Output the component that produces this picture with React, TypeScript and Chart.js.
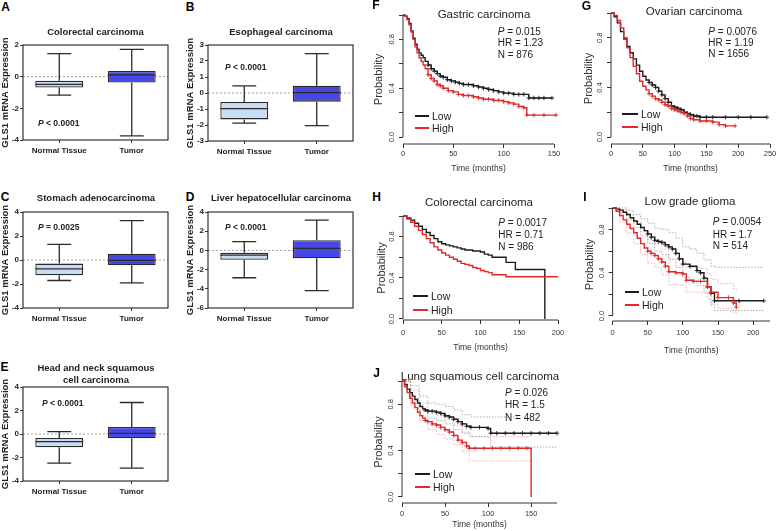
import React, { useEffect, useRef } from 'react';
import { Chart, registerables } from 'chart.js';
Chart.register(...registerables);

const FONT = '"Liberation Sans", Arial, Helvetica, sans-serif';
const RED = '#e02a2a';
const BLACK = '#1c1c1c';
const NORMAL_FILL = '#c8dcf4';
const TUMOR_FILL = '#4747e6';

// ---------- Box plot data: [min, q1, median, q3, max] ----------
const boxCategories = ['Normal Tissue', 'Tumor'];
const colorectalNormal = [-1.17, -0.68, -0.49, -0.26, 1.45];
const colorectalTumor = [-3.74, -0.37, 0.11, 0.36, 1.73];
const esophagealNormal = [-1.88, -1.65, -0.98, -0.56, 0.44];
const esophagealTumor = [-2.04, -0.54, 0.02, 0.46, 2.46];
const stomachNormal = [-1.71, -1.27, -0.74, -0.3, 1.3];
const stomachTumor = [-1.9, -0.44, -0.03, 0.52, 3.28];
const liverNormal = [-2.85, -0.97, -0.49, -0.25, 0.92];
const liverTumor = [-4.18, -0.83, 0.22, 1.06, 3.16];
const headNeckNormal = [-2.48, -1.13, -0.65, -0.34, 0.2];
const headNeckTumor = [-2.9, -0.37, 0.06, 0.59, 2.68];

const ticksA = [-4, -2, 0, 2];
const ticksB = [-3, -2, -1, 0, 1, 2, 3];
const ticksC = [-4, -2, 0, 2, 4];
const ticksD = [-6, -4, -2, 0, 2, 4];
const ticksE = [-4, -2, 0, 2, 4];

// ---------- Kaplan-Meier data ----------
const kmYTicks = [0, 0.2, 0.4, 0.6, 0.8, 1.0];
const kmYLabels = [0, 0.4, 0.8];

const gastricLowTime = [0, 2, 4, 6, 8, 10, 12, 14, 16, 18, 20, 22, 25, 28, 31, 34, 37, 40, 44, 48, 52, 56, 60, 65, 70, 75, 80, 85, 90, 95, 100, 105, 110, 115, 120, 125, 130, 135, 140, 148];
const gastricLowSurv = [1, 0.99, 0.97, 0.93, 0.87, 0.81, 0.76, 0.72, 0.69, 0.67, 0.65, 0.62, 0.59, 0.56, 0.54, 0.52, 0.5, 0.49, 0.47, 0.46, 0.45, 0.44, 0.43, 0.43, 0.42, 0.41, 0.4, 0.39, 0.38, 0.37, 0.36, 0.36, 0.35, 0.35, 0.35, 0.32, 0.32, 0.32, 0.32, 0.32];
const gastricHighTime = [0, 2, 4, 6, 8, 10, 12, 14, 16, 18, 20, 22, 25, 28, 31, 34, 37, 40, 45, 50, 55, 60, 65, 70, 75, 80, 85, 90, 95, 100, 105, 110, 115, 120, 123, 130, 140, 152];
const gastricHighSurv = [1, 0.99, 0.96, 0.92, 0.86, 0.8, 0.74, 0.69, 0.65, 0.62, 0.59, 0.56, 0.51, 0.48, 0.46, 0.43, 0.42, 0.4, 0.38, 0.37, 0.35, 0.34, 0.34, 0.33, 0.32, 0.31, 0.31, 0.3, 0.3, 0.29, 0.28, 0.27, 0.25, 0.24, 0.18, 0.18, 0.18, 0.18];
const gastricXTicks = [0, 50, 100, 150];

const ovarianLowTime = [0, 5, 10, 15, 20, 25, 30, 35, 40, 45, 50, 55, 60, 65, 70, 75, 80, 85, 90, 95, 100, 105, 110, 115, 120, 125, 130, 135, 140, 150, 160, 180, 200, 220, 245];
const ovarianLowSurv = [1, 0.97, 0.92, 0.85, 0.79, 0.73, 0.68, 0.63, 0.58, 0.53, 0.49, 0.46, 0.44, 0.42, 0.4, 0.37, 0.34, 0.31, 0.28, 0.25, 0.24, 0.23, 0.22, 0.2, 0.19, 0.18, 0.17, 0.17, 0.16, 0.16, 0.16, 0.16, 0.16, 0.16, 0.16];
const ovarianHighTime = [0, 5, 10, 15, 20, 25, 30, 35, 40, 45, 50, 55, 60, 65, 70, 75, 80, 85, 90, 95, 100, 105, 110, 115, 120, 125, 130, 140, 150, 160, 170, 180, 195];
const ovarianHighSurv = [1, 0.98, 0.94, 0.88, 0.8, 0.72, 0.64, 0.57, 0.51, 0.45, 0.41, 0.38, 0.35, 0.33, 0.31, 0.3, 0.28, 0.26, 0.25, 0.23, 0.22, 0.21, 0.2, 0.19, 0.17, 0.15, 0.14, 0.13, 0.13, 0.12, 0.1, 0.09, 0.09];
const ovarianXTicks = [0, 50, 100, 150, 200, 250];

const colorectalLowTime = [0, 5, 10, 15, 20, 25, 30, 35, 40, 45, 50, 55, 60, 65, 70, 75, 80, 90, 100, 105, 110, 115, 125, 133, 140, 145, 183];
const colorectalLowSurv = [1, 0.98, 0.96, 0.93, 0.9, 0.87, 0.84, 0.81, 0.78, 0.75, 0.73, 0.72, 0.71, 0.7, 0.69, 0.68, 0.67, 0.66, 0.65, 0.63, 0.62, 0.6, 0.6, 0.55, 0.55, 0.48, 0];
const colorectalHighTime = [0, 5, 10, 15, 20, 25, 30, 35, 40, 45, 50, 55, 60, 65, 70, 75, 80, 85, 90, 95, 100, 105, 110, 115, 133, 200];
const colorectalHighSurv = [1, 0.97, 0.94, 0.9, 0.86, 0.82, 0.78, 0.74, 0.7, 0.67, 0.64, 0.62, 0.6, 0.58, 0.56, 0.54, 0.53, 0.52, 0.5, 0.49, 0.47, 0.46, 0.45, 0.43, 0.41, 0.41];
const colorectalXTicks = [0, 50, 100, 150, 200];

const gliomaLowTime = [0, 5, 10, 15, 20, 25, 30, 35, 40, 45, 50, 55, 60, 65, 70, 75, 80, 85, 90, 95, 100, 110, 120, 125, 130, 135, 140, 145, 180, 215];
const gliomaLowSurv = [1, 0.99, 0.98, 0.96, 0.94, 0.91, 0.88, 0.85, 0.82, 0.79, 0.76, 0.73, 0.7, 0.69, 0.68, 0.66, 0.64, 0.62, 0.58, 0.53, 0.48, 0.46, 0.42, 0.4, 0.35, 0.27, 0.21, 0.14, 0.14, 0.14];
const gliomaHighTime = [0, 5, 10, 15, 20, 25, 30, 35, 40, 45, 50, 55, 60, 65, 70, 75, 80, 90, 100, 105, 115, 125, 135, 140, 150, 165, 172, 176];
const gliomaHighSurv = [1, 0.97, 0.93, 0.89, 0.85, 0.81, 0.77, 0.72, 0.67, 0.63, 0.6, 0.58, 0.56, 0.53, 0.5, 0.46, 0.41, 0.4, 0.39, 0.33, 0.32, 0.32, 0.27, 0.22, 0.17, 0.17, 0.12, 0.08];
const gliomaLowCiTime = [0, 10, 20, 30, 40, 50, 60, 70, 80, 90, 100, 110, 120, 130, 140, 145, 215];
const gliomaLowUpper = [1, 1, 0.98, 0.94, 0.9, 0.86, 0.81, 0.8, 0.77, 0.72, 0.64, 0.62, 0.58, 0.52, 0.46, 0.45, 0.45];
const gliomaLowLower = [1, 0.96, 0.89, 0.82, 0.74, 0.67, 0.6, 0.57, 0.52, 0.45, 0.36, 0.33, 0.28, 0.22, 0.1, 0.05, 0.04];
const gliomaHighCiTime = [0, 10, 20, 30, 40, 50, 60, 70, 80, 100, 105, 125, 135, 140, 150, 172, 176];
const gliomaHighUpper = [1, 0.98, 0.93, 0.87, 0.78, 0.71, 0.67, 0.62, 0.53, 0.5, 0.45, 0.44, 0.39, 0.34, 0.3, 0.25, 0.22];
const gliomaHighLower = [1, 0.87, 0.77, 0.67, 0.57, 0.49, 0.45, 0.38, 0.29, 0.28, 0.22, 0.21, 0.16, 0.11, 0.07, 0.03, 0.02];
const gliomaXTicks = [0, 50, 100, 150, 200];

const lungLowTime = [0, 3, 6, 9, 12, 15, 18, 21, 24, 27, 30, 35, 40, 45, 50, 55, 60, 65, 70, 75, 80, 90, 100, 103, 110, 120, 130, 140, 150, 160, 170, 180];
const lungLowSurv = [1, 0.97, 0.93, 0.9, 0.87, 0.84, 0.81, 0.78, 0.76, 0.75, 0.74, 0.74, 0.73, 0.72, 0.7, 0.69, 0.67, 0.65, 0.63, 0.61, 0.6, 0.6, 0.59, 0.55, 0.55, 0.55, 0.55, 0.55, 0.55, 0.55, 0.55, 0.55];
const lungHighTime = [0, 3, 6, 9, 12, 15, 18, 21, 24, 27, 30, 35, 40, 45, 50, 55, 60, 65, 70, 75, 78, 85, 95, 105, 115, 125, 135, 145, 150];
const lungHighSurv = [1, 0.95, 0.9, 0.85, 0.81, 0.77, 0.73, 0.7, 0.68, 0.66, 0.65, 0.63, 0.62, 0.6, 0.58, 0.56, 0.53, 0.49, 0.47, 0.44, 0.42, 0.42, 0.42, 0.42, 0.42, 0.42, 0.42, 0.42, 0];
const lungLowUpperTime = [0, 10, 20, 30, 40, 50, 60, 70, 80, 100, 103, 135];
const lungLowUpper = [1, 0.96, 0.87, 0.81, 0.8, 0.78, 0.75, 0.71, 0.69, 0.69, 0.69, 0.69];
const lungLowLowerTime = [0, 10, 20, 30, 40, 50, 60, 70, 80, 100, 103, 180];
const lungLowLower = [1, 0.85, 0.74, 0.68, 0.66, 0.63, 0.58, 0.55, 0.52, 0.51, 0.43, 0.43];
const lungHighCiTime = [0, 10, 20, 30, 40, 50, 60, 70, 78, 150];
const lungHighUpper = [1, 0.92, 0.81, 0.74, 0.71, 0.67, 0.62, 0.56, 0.52, 0.52];
const lungHighLower = [1, 0.79, 0.66, 0.58, 0.54, 0.5, 0.45, 0.39, 0.31, 0.31];
const lungXTicks = [0, 50, 100, 150];

// ---------- helpers ----------
type Area = { L: number; T: number; R: number; B: number };
type Pad = { l: number; t: number; r: number; b: number };

function geom(area: Area, yW: number, xH: number, pad: Pad) {
  const x = area.L - yW - pad.l;
  const y = area.T - pad.t;
  return { x, y, w: Math.round(area.R + pad.r - x), h: Math.round(area.B + xH + pad.b - y) };
}

function ChartCanvas({ rect, make }: { rect: { x: number; y: number; w: number; h: number }; make: () => any }) {
  const ref = useRef<HTMLCanvasElement | null>(null);
  useEffect(() => {
    if (!ref.current) return;
    const c = new Chart(ref.current, make());
    return () => c.destroy();
  }, []);
  return (
    <canvas
      ref={ref}
      width={rect.w}
      height={rect.h}
      style={{ position: 'absolute', left: rect.x, top: rect.y, width: rect.w, height: rect.h }}
    />
  );
}

const BOX_PAD: Pad = { l: 0, t: 8, r: 8, b: 2 };
const BOX_YW = 23;
const BOX_XH = 18;

function boxConfig(normal: number[], tumor: number[], yMin: number, yMax: number, yTicks: number[]) {
  const stats = [normal, tumor];
  const extras = {
    id: 'boxExtras',
    beforeDatasetsDraw(chart: any) {
      const { ctx, chartArea: ca, scales } = chart;
      const y0 = scales.y.getPixelForValue(0);
      ctx.save();
      ctx.strokeStyle = '#8c8c8c';
      ctx.lineWidth = 0.8;
      ctx.setLineDash([2, 2]);
      ctx.beginPath();
      ctx.moveTo(ca.left, y0);
      ctx.lineTo(ca.right, y0);
      ctx.stroke();
      ctx.restore();
    },
    afterDatasetsDraw(chart: any) {
      const { ctx, scales } = chart;
      const y = scales.y;
      const meta = chart.getDatasetMeta(0);
      ctx.save();
      ctx.strokeStyle = '#2b2b2b';
      ctx.lineWidth = 1.3;
      meta.data.forEach((el: any, i: number) => {
        const s = stats[i];
        const { x, width } = el.getProps(['x', 'width'], true);
        const half = width / 2;
        const cap = width / 4;
        const py = (v: number) => y.getPixelForValue(v);
        ctx.beginPath();
        ctx.moveTo(x, py(s[4]));
        ctx.lineTo(x, py(s[3]));
        ctx.moveTo(x, py(s[1]));
        ctx.lineTo(x, py(s[0]));
        ctx.moveTo(x - cap, py(s[4]));
        ctx.lineTo(x + cap, py(s[4]));
        ctx.moveTo(x - cap, py(s[0]));
        ctx.lineTo(x + cap, py(s[0]));
        ctx.moveTo(x - half, py(s[2]));
        ctx.lineTo(x + half, py(s[2]));
        ctx.stroke();
      });
      ctx.restore();
    },
    afterDraw(chart: any) {
      const { ctx, chartArea: ca } = chart;
      ctx.save();
      ctx.strokeStyle = '#333';
      ctx.lineWidth = 1.2;
      ctx.strokeRect(ca.left, ca.top, ca.right - ca.left, ca.bottom - ca.top);
      ctx.restore();
    },
  };
  return {
    type: 'bar',
    data: {
      labels: boxCategories,
      datasets: [
        {
          data: stats.map((s) => [s[1], s[3]]),
          backgroundColor: [NORMAL_FILL, TUMOR_FILL],
          borderColor: '#2b2b2b',
          borderWidth: 1.3,
          borderSkipped: false,
          barPercentage: 0.66,
          categoryPercentage: 1,
        },
      ],
    },
    options: {
      responsive: false,
      animation: false,
      events: [],
      layout: { padding: { left: BOX_PAD.l, top: BOX_PAD.t, right: BOX_PAD.r, bottom: BOX_PAD.b } },
      plugins: { legend: { display: false }, tooltip: { enabled: false }, title: { display: false } },
      scales: {
        x: {
          type: 'category',
          offset: true,
          grid: { display: true, drawOnChartArea: false, offset: false, tickLength: 3, color: '#333' },
          border: { display: false },
          ticks: { font: { family: FONT, size: 8, weight: 'bold' }, color: '#222', padding: 3, maxRotation: 0 },
          afterFit: (s: any) => {
            s.height = BOX_XH;
            s.paddingLeft = 0;
            s.paddingRight = 0;
          },
        },
        y: {
          min: yMin,
          max: yMax,
          afterBuildTicks: (s: any) => {
            s.ticks = yTicks.map((v) => ({ value: v }));
          },
          grid: { drawOnChartArea: false, tickLength: 3, color: '#333' },
          border: { display: false },
          ticks: { font: { family: FONT, size: 8, weight: 'bold' }, color: '#222', padding: 1 },
          title: {
            display: true,
            text: 'GLS1 mRNA Expression',
            font: { family: FONT, size: 9.5, weight: 'bold' },
            color: '#222',
            padding: 0,
          },
          afterFit: (s: any) => {
            s.width = BOX_YW;
            s.paddingTop = 0;
            s.paddingBottom = 0;
          },
        },
      },
    },
    plugins: [extras],
  };
}

const KM_PAD: Pad = { l: 0, t: 8, r: 10, b: 2 };

type Ci = { t: number[]; v: number[]; color: string };
type KmSpec = {
  area: Area;
  yMin: number;
  xMax: number;
  xTicks: number[];
  yW: number;
  xH: number;
  tickPad: number;
  r: number;
  censorFrom: number;
  lowT: number[];
  lowS: number[];
  highT: number[];
  highS: number[];
  ci?: Ci[];
};

function kmConfig(p: KmSpec) {
  const mk = (t: number[], v: number[]) => t.map((x, i) => ({ x, y: v[i] }));
  const main = (color: string) => ({
    borderColor: color,
    backgroundColor: color,
    borderWidth: 1.4,
    stepped: 'before',
    fill: false,
    clip: false,
    pointStyle: 'cross',
    pointRadius: (c: any) =>
      c.dataIndex === 0 || !c.raw || c.raw.y === 0 || c.raw.x < p.censorFrom ? 0 : p.r,
    pointBorderColor: color,
    pointBorderWidth: 0.9,
  });
  const datasets: any[] = [
    { data: mk(p.highT, p.highS), ...main(RED) },
    { data: mk(p.lowT, p.lowS), ...main(BLACK) },
    ...(p.ci || []).map((c) => ({
      data: mk(c.t, c.v),
      borderColor: c.color,
      borderWidth: 0.8,
      borderDash: [1.5, 1.5],
      pointRadius: 0,
      stepped: 'before',
      fill: false,
      clip: false,
    })),
  ];
  const rAxes = {
    id: 'rAxes',
    afterDraw(chart: any) {
      const { ctx, chartArea: ca, scales } = chart;
      const x = scales.x;
      const y = scales.y;
      ctx.save();
      ctx.strokeStyle = '#333';
      ctx.lineWidth = 1;
      ctx.beginPath();
      ctx.moveTo(ca.left, y.getPixelForValue(kmYTicks[0]));
      ctx.lineTo(ca.left, y.getPixelForValue(kmYTicks[kmYTicks.length - 1]));
      ctx.moveTo(x.getPixelForValue(p.xTicks[0]), ca.bottom);
      ctx.lineTo(x.getPixelForValue(p.xMax), ca.bottom);
      ctx.stroke();
      ctx.fillStyle = '#333';
      ctx.font = `7.5px ${FONT}`;
      ctx.textAlign = 'center';
      ctx.textBaseline = 'middle';
      kmYLabels.forEach((v) => {
        ctx.save();
        ctx.translate(ca.left - 11, y.getPixelForValue(v));
        ctx.rotate(-Math.PI / 2);
        ctx.fillText(v.toFixed(1), 0, 0);
        ctx.restore();
      });
      ctx.restore();
    },
  };
  return {
    type: 'line',
    data: { datasets },
    options: {
      responsive: false,
      animation: false,
      events: [],
      layout: { padding: { left: KM_PAD.l, top: KM_PAD.t, right: KM_PAD.r, bottom: KM_PAD.b } },
      plugins: { legend: { display: false }, tooltip: { enabled: false }, title: { display: false } },
      scales: {
        x: {
          type: 'linear',
          min: 0,
          max: p.xMax,
          afterBuildTicks: (s: any) => {
            s.ticks = p.xTicks.map((v) => ({ value: v }));
          },
          grid: { drawOnChartArea: false, tickLength: 4, color: '#333' },
          border: { display: false },
          ticks: { font: { family: FONT, size: 7.5 }, color: '#333', padding: p.tickPad, maxRotation: 0, autoSkip: false },
          title: { display: true, text: 'Time (months)', font: { family: FONT, size: 8.5 }, color: '#333', padding: 0 },
          afterFit: (s: any) => {
            s.height = p.xH;
            s.paddingLeft = 0;
            s.paddingRight = 0;
          },
        },
        y: {
          type: 'linear',
          min: p.yMin,
          max: 1,
          afterBuildTicks: (s: any) => {
            s.ticks = kmYTicks.map((v) => ({ value: v }));
          },
          grid: { drawOnChartArea: false, tickLength: 4, color: '#333' },
          border: { display: false },
          ticks: { display: false },
          title: { display: true, text: 'Probability', font: { family: FONT, size: 11 }, color: '#333', padding: 0 },
          afterFit: (s: any) => {
            s.width = p.yW;
            s.paddingTop = 0;
            s.paddingBottom = 0;
          },
        },
      },
    },
    plugins: [rAxes],
  };
}

// ---------- text overlays ----------
function Txt({ x, y, size, bold, align = 'center', color = '#222', children }: any) {
  return (
    <div
      style={{
        position: 'absolute',
        left: x,
        top: y,
        transform: `translate(${align === 'center' ? '-50%' : '0'}, -50%)`,
        fontSize: size,
        fontWeight: bold ? 700 : 400,
        color,
        whiteSpace: 'nowrap',
        lineHeight: 1,
        fontFamily: FONT,
      }}
    >
      {children}
    </div>
  );
}

function Legend({ x, tx, yLow, yHigh }: { x: number; tx: number; yLow: number; yHigh: number }) {
  const w = tx - x - 3;
  return (
    <>
      <div style={{ position: 'absolute', left: x, top: yLow - 1, width: w, height: 2, background: BLACK }} />
      <div style={{ position: 'absolute', left: x, top: yHigh - 1, width: w, height: 2, background: RED }} />
      <Txt x={tx} y={yLow} size={10.5} align="left" color="#222">Low</Txt>
      <Txt x={tx} y={yHigh} size={10.5} align="left" color="#222">High</Txt>
    </>
  );
}

function Stats({ x, ys, p, hr, n }: { x: number; ys: number[]; p: string; hr: string; n: string }) {
  return (
    <>
      <Txt x={x} y={ys[0]} size={10} align="left"><i>P</i> = {p}</Txt>
      <Txt x={x} y={ys[1]} size={10} align="left">HR = {hr}</Txt>
      <Txt x={x} y={ys[2]} size={10} align="left">N = {n}</Txt>
    </>
  );
}

const boxPanels = [
  { key: 'A', area: { L: 23, T: 45, R: 168, B: 140 }, yMin: -4, yMax: 2, ticks: ticksA, normal: colorectalNormal, tumor: colorectalTumor },
  { key: 'B', area: { L: 208, T: 45, R: 353, B: 141 }, yMin: -3, yMax: 3, ticks: ticksB, normal: esophagealNormal, tumor: esophagealTumor },
  { key: 'C', area: { L: 23, T: 212, R: 168, B: 308 }, yMin: -4, yMax: 4, ticks: ticksC, normal: stomachNormal, tumor: stomachTumor },
  { key: 'D', area: { L: 208, T: 212, R: 353, B: 308 }, yMin: -6, yMax: 4, ticks: ticksD, normal: liverNormal, tumor: liverTumor },
  { key: 'E', area: { L: 23, T: 387, R: 168, B: 481 }, yMin: -4, yMax: 4, ticks: ticksE, normal: headNeckNormal, tumor: headNeckTumor },
];

const kmPanels: (KmSpec & { key: string })[] = [
  {
    key: 'F', area: { L: 403, T: 15, R: 554, B: 144 }, yMin: -0.057, xMax: 150, xTicks: gastricXTicks, yW: 31, xH: 30, tickPad: 1.5, r: 2.2, censorFrom: 25,
    lowT: gastricLowTime, lowS: gastricLowSurv, highT: gastricHighTime, highS: gastricHighSurv,
  },
  {
    key: 'G', area: { L: 611, T: 13, R: 770, B: 144 }, yMin: -0.056, xMax: 250, xTicks: ovarianXTicks, yW: 29, xH: 30, tickPad: 1.5, r: 2.2, censorFrom: 60,
    lowT: ovarianLowTime, lowS: ovarianLowSurv, highT: ovarianHighTime, highS: ovarianHighSurv,
  },
  {
    key: 'H', area: { L: 403, T: 216, R: 558, B: 320 }, yMin: -0.01, xMax: 200, xTicks: colorectalXTicks, yW: 28, xH: 33, tickPad: 4.5, r: 0, censorFrom: 0,
    lowT: colorectalLowTime, lowS: colorectalLowSurv, highT: colorectalHighTime, highS: colorectalHighSurv,
  },
  {
    key: 'I', area: { L: 613, T: 207.5, R: 770, B: 320 }, yMin: -0.047, xMax: 224, xTicks: gliomaXTicks, yW: 29.6, xH: 35, tickPad: 3.5, r: 2.2, censorFrom: 50,
    lowT: gliomaLowTime, lowS: gliomaLowSurv, highT: gliomaHighTime, highS: gliomaHighSurv,
    ci: [
      { t: gliomaLowCiTime, v: gliomaLowUpper, color: '#9a9a9a' },
      { t: gliomaLowCiTime, v: gliomaLowLower, color: '#9a9a9a' },
      { t: gliomaHighCiTime, v: gliomaHighUpper, color: '#f09a9a' },
      { t: gliomaHighCiTime, v: gliomaHighLower, color: '#f09a9a' },
    ],
  },
  {
    key: 'J', area: { L: 402, T: 381, R: 557, B: 503 }, yMin: -0.052, xMax: 180, xTicks: lungXTicks, yW: 30, xH: 27, tickPad: 2.5, r: 2.2, censorFrom: 25,
    lowT: lungLowTime, lowS: lungLowSurv, highT: lungHighTime, highS: lungHighSurv,
    ci: [
      { t: lungLowUpperTime, v: lungLowUpper, color: '#9a9a9a' },
      { t: lungLowLowerTime, v: lungLowLower, color: '#9a9a9a' },
      { t: lungHighCiTime, v: lungHighUpper, color: '#f09a9a' },
      { t: lungHighCiTime, v: lungHighLower, color: '#f09a9a' },
    ],
  },
];

export default function App() {
  return (
    <div
      style={{
        position: 'fixed',
        left: 0,
        top: 0,
        width: 777,
        height: 531,
        overflow: 'hidden',
        background: '#ffffff',
        fontFamily: FONT,
      }}
    >
      {boxPanels.map((b) => (
        <ChartCanvas
          key={b.key}
          rect={geom(b.area, BOX_YW, BOX_XH, BOX_PAD)}
          make={() => boxConfig(b.normal, b.tumor, b.yMin, b.yMax, b.ticks)}
        />
      ))}
      {kmPanels.map((k) => (
        <ChartCanvas key={k.key} rect={geom(k.area, k.yW, k.xH, KM_PAD)} make={() => kmConfig(k)} />
      ))}

      {/* Panel letters */}
      <Txt x={5.5} y={6.5} size={12} bold color="#000">A</Txt>
      <Txt x={190} y={6.5} size={12} bold color="#000">B</Txt>
      <Txt x={5} y={197} size={12} bold color="#000">C</Txt>
      <Txt x={190} y={197} size={12} bold color="#000">D</Txt>
      <Txt x={4.5} y={367} size={12} bold color="#000">E</Txt>
      <Txt x={376} y={5} size={12} bold color="#000">F</Txt>
      <Txt x={586.5} y={6} size={12} bold color="#000">G</Txt>
      <Txt x={376.5} y={197} size={12} bold color="#000">H</Txt>
      <Txt x={585} y={196.5} size={12} bold color="#000">I</Txt>
      <Txt x={376.5} y={373} size={12} bold color="#000">J</Txt>

      {/* Box plot titles */}
      <Txt x={95.5} y={31.7} size={9.5} bold>Colorectal carcinoma</Txt>
      <Txt x={281} y={31.7} size={9.5} bold>Esophageal carcinoma</Txt>
      <Txt x={96} y={197.7} size={9.5} bold>Stomach adenocarcinoma</Txt>
      <Txt x={281} y={197.7} size={9.5} bold>Liver hepatocellular carcinoma</Txt>
      <Txt x={96} y={368.3} size={9.5} bold>Head and neck squamous</Txt>
      <Txt x={96} y={379.5} size={9.5} bold>cell carcinoma</Txt>

      {/* P values for box plots */}
      <Txt x={38} y={122.7} size={8.5} bold align="left"><i>P</i> &lt; 0.0001</Txt>
      <Txt x={225} y={67} size={8.5} bold align="left"><i>P</i> &lt; 0.0001</Txt>
      <Txt x={38} y={226.7} size={8.5} bold align="left"><i>P</i> = 0.0025</Txt>
      <Txt x={225} y={226.7} size={8.5} bold align="left"><i>P</i> &lt; 0.0001</Txt>
      <Txt x={42} y={402.7} size={8.5} bold align="left"><i>P</i> &lt; 0.0001</Txt>

      {/* KM titles */}
      <Txt x={484} y={15} size={11.5}>Gastric carcinoma</Txt>
      <Txt x={694} y={12.3} size={11.5}>Ovarian carcinoma</Txt>
      <Txt x={479} y={203.3} size={11.5}>Colorectal carcinoma</Txt>
      <Txt x={690} y={201.7} size={11.5}>Low grade glioma</Txt>
      <Txt x={480} y={376.7} size={11.5}>Lung squamous cell carcinoma</Txt>

      {/* KM statistics */}
      <Stats x={497.7} ys={[32.3, 43.3, 55]} p="0.015" hr="1.23" n="876" />
      <Stats x={708.3} ys={[32.3, 43.3, 54.3]} p="0.0076" hr="1.19" n="1656" />
      <Stats x={498.3} ys={[222.7, 235, 246.7]} p="0.0017" hr="0.71" n="986" />
      <Stats x={712.7} ys={[221.7, 235, 245.7]} p="0.0054" hr="1.7" n="514" />
      <Stats x={505} ys={[393.3, 405, 417.7]} p="0.026" hr="1.5" n="482" />

      {/* KM legends */}
      <Legend x={415} tx={432} yLow={115.7} yHigh={128} />
      <Legend x={622} tx={641} yLow={114} yHigh={127} />
      <Legend x={413} tx={431} yLow={295.7} yHigh={310} />
      <Legend x={625} tx={642} yLow={292.3} yHigh={305} />
      <Legend x={415} tx={433} yLow={474.3} yHigh={487.3} />
    </div>
  );
}
